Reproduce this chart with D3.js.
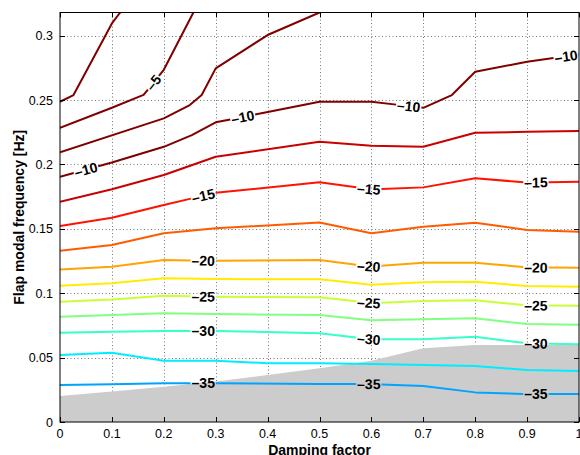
<!DOCTYPE html>
<html>
<head>
<meta charset="utf-8">
<script src="https://cdn.jsdelivr.net/npm/d3@7"></script>
<style>
  body { margin: 0; background: #fff; }
  svg { display: block; }
  text { font-family: "Liberation Sans", Arial, Helvetica, sans-serif; }
</style>
</head>
<body>
<svg id="chart" width="580" height="455"></svg>
<script>
// Contour levels of the response map (dB)
const levels = [-2.5, -5, -7.5, -10, -12.5, -15, -17.5, -20, -22.5, -25, -27.5, -30, -32.5, -35];

// Contour polylines: [damping factor, flap modal frequency]
const c2_5  = [[0,0.2487],[0.026,0.2539],[0.1,0.3095],[0.116,0.318],[0.13,0.326]];
const c5    = [[0,0.2285],[0.1,0.244],[0.161,0.254],[0.2,0.2735],[0.257,0.318],[0.27,0.328]];
const c7_5  = [[0,0.2094],[0.2,0.2358],[0.25,0.2461],[0.273,0.2539],[0.3,0.2746],[0.4,0.3005],[0.5,0.318],[0.55,0.327]];
const c10   = [[0,0.1905],[0.1,0.2015],[0.2,0.2137],[0.254,0.2228],[0.3,0.2327],[0.5,0.2487],[0.6,0.2487],[0.7,0.244],[0.755,0.2539],[0.8,0.272],[0.9,0.2797],[1,0.2855]];
const c12_5 = [[0,0.171],[0.1,0.1807],[0.2,0.1918],[0.3,0.206],[0.5,0.2176],[0.6,0.2145],[0.7,0.2137],[0.8,0.2246],[0.9,0.2253],[1,0.226]];
const c15   = [[0,0.1522],[0.1,0.1586],[0.2,0.1685],[0.3,0.178],[0.5,0.1861],[0.6,0.1807],[0.7,0.1822],[0.8,0.1892],[0.9,0.186],[1,0.1866]];
const c17_5 = [[0,0.133],[0.1,0.1374],[0.2,0.1465],[0.3,0.1504],[0.5,0.155],[0.6,0.1465],[0.7,0.1517],[0.8,0.1548],[0.9,0.1491],[1,0.1478]];
const c20   = [[0,0.1185],[0.1,0.1206],[0.2,0.1258],[0.3,0.1252],[0.5,0.1258],[0.6,0.1207],[0.7,0.1237],[0.8,0.1237],[0.9,0.1201],[1,0.1198]];
const c22_5 = [[0,0.1058],[0.1,0.1077],[0.2,0.1116],[0.3,0.111],[0.5,0.1108],[0.6,0.1066],[0.7,0.1085],[0.8,0.1089],[0.9,0.1056],[1,0.105]];
const c25   = [[0,0.0934],[0.1,0.0952],[0.2,0.098],[0.3,0.0973],[0.5,0.0968],[0.6,0.0924],[0.7,0.0939],[0.8,0.0945],[0.9,0.0905],[1,0.0903]];
const c27_5 = [[0,0.0818],[0.1,0.0831],[0.2,0.0844],[0.3,0.0838],[0.5,0.0831],[0.6,0.079],[0.7,0.0797],[0.8,0.0805],[0.9,0.0761],[1,0.0756]];
const c30   = [[0,0.0694],[0.1,0.0701],[0.2,0.0707],[0.3,0.0707],[0.5,0.0689],[0.6,0.0642],[0.7,0.0642],[0.8,0.0662],[0.9,0.0611],[1,0.0603]];
const c32_5 = [[0,0.052],[0.1,0.0538],[0.2,0.0476],[0.3,0.0476],[0.4,0.0456],[0.5,0.0456],[0.6,0.045],[0.7,0.0443],[0.8,0.0435],[0.9,0.0404],[1,0.0396]];
const c35   = [[0,0.0287],[0.1,0.0293],[0.2,0.03],[0.3,0.03],[0.5,0.0295],[0.6,0.0295],[0.7,0.028],[0.8,0.023],[0.9,0.0217],[1,0.0217]];

// Upper boundary of the excluded (shaded) region
const excludedTop = [[0,0.0202],[0.1,0.0237],[0.2,0.0273],[0.3,0.0315],[0.4,0.0365],[0.5,0.0418],[0.6,0.0475],[0.7,0.0572],[0.8,0.0598],[0.9,0.0598],[1,0.0598]];

// Damping-factor positions of the inline contour labels
const labelsAt5  = [0.18];
const labelsAt10 = [0.05, 0.352, 0.672, 0.975];
const labelsAt15 = [0.276, 0.595, 0.917];
const labelsAt20 = [0.276, 0.595, 0.917];
const labelsAt25 = [0.276, 0.595, 0.917];
const labelsAt30 = [0.276, 0.595, 0.917];
const labelsAt35 = [0.276, 0.595, 0.917];

// Axis ticks
const xTicks = [0, 0.1, 0.2, 0.3, 0.4, 0.5, 0.6, 0.7, 0.8, 0.9, 1];
const yTicks = [0, 0.05, 0.1, 0.15, 0.2, 0.25, 0.3];

const contourPts = [c2_5, c5, c7_5, c10, c12_5, c15, c17_5, c20, c22_5, c25, c27_5, c30, c32_5, c35];
const labelPos = {"-5": labelsAt5, "-10": labelsAt10, "-15": labelsAt15, "-20": labelsAt20,
                  "-25": labelsAt25, "-30": labelsAt30, "-35": labelsAt35};
const contours = levels.map((lv, i) => ({level: lv, pts: contourPts[i], labels: labelPos[String(lv)] || []}));

const svg = d3.select("#chart");
const L = 60, R = 579, T = 12.5, B = 422;

const x = d3.scaleLinear().domain([0, 1]).range([L, R]);
const y = d3.scaleLinear().domain([0, 0.318]).range([B, T]);

// jet colormap over the level range
function jet(t) {
  t = Math.max(0, Math.min(1, t));
  const c = v => Math.round(255 * Math.max(0, Math.min(1, v)));
  return `rgb(${c(1.5 - Math.abs(4 * t - 3))},${c(1.5 - Math.abs(4 * t - 2))},${c(1.5 - Math.abs(4 * t - 1))})`;
}
const colorT = d3.scaleLinear().domain([-45, -10]).range([0, 1]);

svg.append("defs").append("clipPath").attr("id", "plot-clip")
  .append("rect").attr("x", L).attr("y", T).attr("width", R - L).attr("height", B - T);

// Dotted grid
const grid = svg.append("g");
grid.selectAll(".gx").data(xTicks.slice(1, -1)).join("line")
  .attr("x1", d => Math.round(x(d)) + 0.5).attr("x2", d => Math.round(x(d)) + 0.5)
  .attr("y1", T).attr("y2", B)
  .attr("stroke", "#777").attr("stroke-width", 1).attr("stroke-dasharray", "1,2.5");
grid.selectAll(".gy").data(yTicks.slice(1)).join("line")
  .attr("y1", d => Math.round(y(d)) + 0.5).attr("y2", d => Math.round(y(d)) + 0.5)
  .attr("x1", L).attr("x2", R)
  .attr("stroke", "#777").attr("stroke-width", 1).attr("stroke-dasharray", "1,2.5");

const plot = svg.append("g").attr("clip-path", "url(#plot-clip)");

// Shaded excluded region
const area = d3.area().x(d => x(d[0])).y0(y(0)).y1(d => y(d[1]));
plot.append("path").datum(excludedTop).attr("d", area).attr("fill", "#cccccc");

const line = d3.line().x(d => x(d[0])).y(d => y(d[1]));
const labelLayer = svg.append("g");

contours.forEach(c => {
  const path = plot.append("path").datum(c.pts)
    .attr("d", line)
    .attr("fill", "none")
    .attr("stroke", jet(colorT(c.level)))
    .attr("stroke-width", 2)
    .attr("stroke-linejoin", "round");
  if (!c.labels.length) return;
  const node = path.node();
  const total = node.getTotalLength();
  // arc length at which the path reaches a given pixel x
  const lenAtX = px => {
    let lo = 0, hi = total;
    for (let k = 0; k < 40; k++) {
      const mid = (lo + hi) / 2;
      if (node.getPointAtLength(mid).x < px) lo = mid; else hi = mid;
    }
    return (lo + hi) / 2;
  };
  const gaps = [];
  c.labels.forEach(lx => {
    const s = lenAtX(x(lx));
    const p = node.getPointAtLength(s);
    const p1 = node.getPointAtLength(Math.max(0, s - 6));
    const p2 = node.getPointAtLength(Math.min(total, s + 6));
    let ang = Math.atan2(p2.y - p1.y, p2.x - p1.x) * 180 / Math.PI;
    if (ang > 90) ang -= 180;
    if (ang < -90) ang += 180;
    const t = labelLayer.append("text")
      .attr("transform", `translate(${p.x},${p.y}) rotate(${ang})`)
      .attr("text-anchor", "middle")
      .attr("dy", "0.36em")
      .attr("font-size", 14)
      .attr("font-weight", "bold")
      .attr("fill", "#000")
      .text("\u2013" + Math.abs(c.level));
    const w = t.node().getComputedTextLength();
    gaps.push([Math.max(0, s - w / 2 - 1), Math.min(total, s + w / 2 + 1)]);
  });
  gaps.sort((a, b) => a[0] - b[0]);
  const dash = [];
  let pos = 0;
  gaps.forEach(g => { dash.push(Math.max(0, g[0] - pos), g[1] - g[0]); pos = g[1]; });
  dash.push(Math.max(0, total - pos) + 1, total + 10);
  path.attr("stroke-dasharray", dash.join(","));
});

// Frame and inward ticks on all four sides
const axes = svg.append("g");
axes.append("rect").attr("x", L).attr("y", T).attr("width", R - L).attr("height", B - T)
  .attr("fill", "none").attr("stroke", "#000").attr("stroke-width", 1);
const tk = 5;
xTicks.forEach(v => {
  const px = Math.round(x(v)) + 0.5;
  axes.append("line").attr("x1", px).attr("x2", px).attr("y1", B).attr("y2", B - tk).attr("stroke", "#000");
  axes.append("line").attr("x1", px).attr("x2", px).attr("y1", T).attr("y2", T + tk).attr("stroke", "#000");
});
yTicks.forEach(v => {
  const py = Math.round(y(v)) + 0.5;
  axes.append("line").attr("y1", py).attr("y2", py).attr("x1", L).attr("x2", L + tk).attr("stroke", "#000");
  axes.append("line").attr("y1", py).attr("y2", py).attr("x1", R).attr("x2", R - tk).attr("stroke", "#000");
});

// Tick labels
axes.selectAll(".xl").data(xTicks).join("text")
  .attr("x", d => x(d)).attr("y", 438)
  .attr("text-anchor", "middle").attr("font-size", 12.5).attr("fill", "#000")
  .text(d => d3.format("~g")(d));
axes.selectAll(".yl").data(yTicks).join("text")
  .attr("x", 53).attr("y", d => y(d)).attr("dy", "0.36em")
  .attr("text-anchor", "end").attr("font-size", 12.5).attr("fill", "#000")
  .text(d => d3.format("~g")(d));

// Axis titles
svg.append("text").attr("x", (L + R) / 2).attr("y", 455)
  .attr("text-anchor", "middle").attr("font-size", 14).attr("font-weight", "bold")
  .text("Damping factor");
svg.append("text").attr("transform", `translate(23.5,${(T + B) / 2}) rotate(-90)`)
  .attr("text-anchor", "middle").attr("font-size", 14).attr("font-weight", "bold")
  .text("Flap modal frequency [Hz]");
</script>
</body>
</html>
